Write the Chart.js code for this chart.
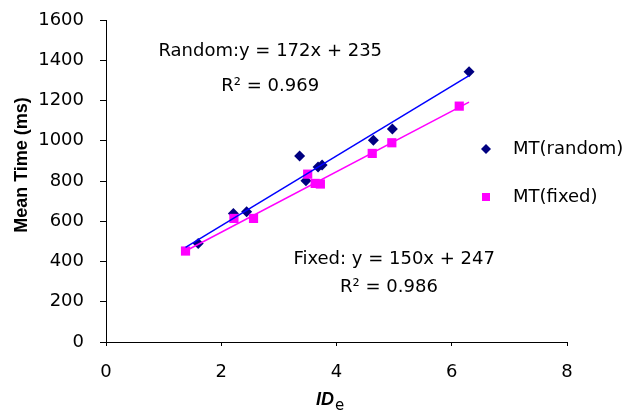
<!DOCTYPE html>
<html><head><meta charset="utf-8">
<script src="https://cdn.jsdelivr.net/npm/chart.js@4/dist/chart.umd.min.js"></script>
<style>html,body{margin:0;padding:0;background:#fff}#wrap{width:633px;height:414px}</style>
</head><body><div id="wrap"><canvas id="c" width="633" height="414"></canvas></div>
<script>
const randomX = [1.60, 2.21, 2.44, 3.36, 3.47, 3.68, 3.75, 4.64, 4.97, 6.30];
const randomY = [490, 639, 647, 924, 801, 870, 880, 1003, 1058, 1343];
const fixedX = [1.38, 2.22, 2.56, 3.50, 3.63, 3.72, 4.62, 4.96, 6.13];
const fixedY = [452, 614, 614, 834, 788, 785, 937, 990, 1172];
const randomTrendX = [1.38, 6.30];
const randomTrendY = [470, 1324];
const fixedTrendX = [1.38, 6.30];
const fixedTrendY = [452, 1192];
const seriesLabels = ['MT(random)', 'MT(fixed)'];
const xTicks = [0, 2, 4, 6, 8];
const yTicks = [0, 200, 400, 600, 800, 1000, 1200, 1400, 1600];
const annotations = [
  {text: 'Random:y = 172x + 235', x: 2.85, y: 1446},
  {text: 'R² = 0.969', x: 2.85, y: 1272},
  {text: 'Fixed: y = 150x + 247', x: 5.0, y: 412},
  {text: 'R² = 0.986', x: 4.91, y: 273}
];

const pts = (xs, ys) => xs.map((x, i) => ({x, y: ys[i]}));
const NAVY = '#000080', MAG = '#FF00FF', BLUE = '#0000FF';
const TF = '"DejaVu Sans", sans-serif';

const overlay = {
  id: 'overlay',
  afterDraw(chart) {
    const ctx = chart.ctx, xs = chart.scales.x, ys = chart.scales.y;
    ctx.save();
    ctx.fillStyle = '#000';
    ctx.font = '18px ' + TF;
    ctx.textBaseline = 'middle';
    ctx.textAlign = 'center';
    annotations.forEach(a => {
      ctx.fillText(a.text, xs.getPixelForValue(a.x), ys.getPixelForValue(a.y));
    });
    // legend
    const lx = 486;
    const ly = [149, 197];
    ctx.textAlign = 'left';
    ctx.fillStyle = NAVY;
    ctx.beginPath();
    ctx.moveTo(lx - 5, ly[0]); ctx.lineTo(lx, ly[0] - 5); ctx.lineTo(lx + 5, ly[0]); ctx.lineTo(lx, ly[0] + 5); ctx.closePath();
    ctx.fill();
    ctx.fillStyle = MAG;
    ctx.fillRect(lx - 4, ly[1] - 4, 8, 8);
    ctx.fillStyle = '#000';
    ctx.fillText(seriesLabels[0], 513, ly[0]);
    ctx.fillText(seriesLabels[1], 513, ly[1]);
    // y title
    ctx.save();
    ctx.translate(22, 165);
    ctx.rotate(-Math.PI / 2);
    ctx.textAlign = 'center';
    ctx.font = 'bold 18px "Liberation Sans", Arial, sans-serif';
    ctx.fillText('Mean Time (ms)', 0, 0);
    ctx.restore();
    // x title
    ctx.textAlign = 'left';
    ctx.font = 'italic bold 18px "Liberation Sans", Arial, sans-serif';
    const w = ctx.measureText('ID').width;
    ctx.fillText('ID', 316, 400);
    ctx.font = '15px ' + TF;
    ctx.fillText('e', 316 + w + 1, 406);
    ctx.restore();
  }
};

new Chart(document.getElementById('c'), {
  type: 'scatter',
  data: {
    datasets: [
      {label: seriesLabels[0], data: pts(randomX, randomY), pointStyle: 'rectRot', pointRadius: 5.5, pointHoverRadius: 5.5,
       backgroundColor: NAVY, borderColor: NAVY, borderWidth: 0, order: 2},
      {label: seriesLabels[1], data: pts(fixedX, fixedY), pointStyle: 'rect', pointRadius: 6.5, pointHoverRadius: 6.5,
       backgroundColor: MAG, borderColor: MAG, borderWidth: 0, order: 1},
      {label: 'trend random', data: pts(randomTrendX, randomTrendY), showLine: true, pointRadius: 0,
       borderColor: BLUE, borderWidth: 1.5, fill: false, order: 0},
      {label: 'trend fixed', data: pts(fixedTrendX, fixedTrendY), showLine: true, pointRadius: 0,
       borderColor: MAG, borderWidth: 1.5, fill: false, order: 0}
    ]
  },
  options: {
    responsive: false,
    animation: false,
    events: [],
    layout: {padding: {left: 0, right: 66, top: 20, bottom: 0}},
    plugins: {legend: {display: false}, tooltip: {enabled: false}},
    scales: {
      x: {
        type: 'linear', min: 0, max: 8,
        afterBuildTicks(s) { s.ticks = xTicks.map(v => ({value: v})); },
        afterFit(s) { s.height = 72; s.paddingLeft = 0; s.paddingRight = 0; },
        grid: {drawOnChartArea: false, drawTicks: true, tickLength: 4, color: '#000', lineWidth: 1},
        border: {display: true, color: '#000', width: 1},
        ticks: {color: '#000', font: {family: TF, size: 18}, padding: 16, maxRotation: 0, callback: v => String(v)}
      },
      y: {
        type: 'linear', min: 0, max: 1600,
        afterBuildTicks(s) { s.ticks = yTicks.map(v => ({value: v})); },
        afterFit(s) { s.width = 106; s.paddingTop = 0; s.paddingBottom = 0; },
        grid: {drawOnChartArea: false, drawTicks: true, tickLength: 6, color: '#000', lineWidth: 1},
        border: {display: true, color: '#000', width: 1},
        ticks: {color: '#000', font: {family: TF, size: 18}, padding: 16, callback: v => String(v)}
      }
    }
  },
  plugins: [overlay]
});
</script></body></html>
